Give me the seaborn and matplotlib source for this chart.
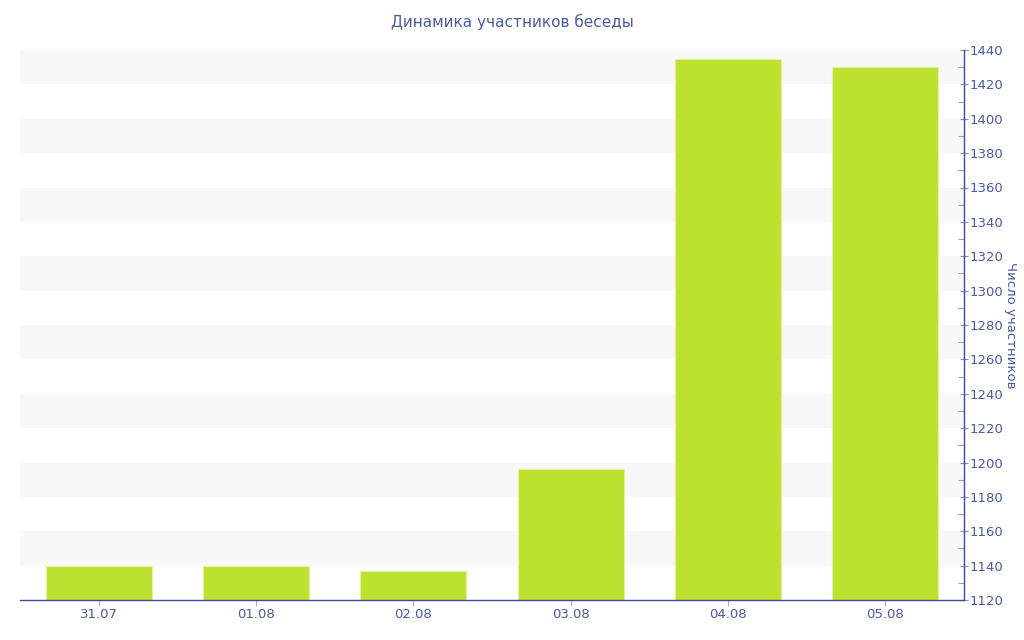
import matplotlib
matplotlib.use("Agg")
import matplotlib.pyplot as plt
import seaborn as sns
import pandas as pd
from matplotlib.ticker import MultipleLocator

dates = ["31.07", "01.08", "02.08", "03.08", "04.08", "05.08"]
members = [1140, 1140, 1137, 1196, 1435, 1430]

TITLE = "Динамика участников беседы"
YLABEL = "Число участников"
BAR_COLOR = "#bde12f"
AXIS_COLOR = "#3a4c9c"
TEXT_COLOR = "#4a5a9e"


def main():
    sns.set_theme(style="white")
    plt.rcParams['font.family'] = ['DejaVu Sans']

    df = pd.DataFrame({"date": dates, "members": members})

    fig = plt.figure(figsize=(10.24, 6.4), dpi=100)
    ax = fig.add_axes([20 / 1024, 40 / 640, 944 / 1024, 550 / 640])

    # alternating background bands
    for lo in range(1140, 1440, 40):
        ax.axhspan(lo, lo + 20, color="#f8f8f8", zorder=0, lw=0)

    sns.barplot(data=df, x="date", y="members", color=BAR_COLOR,
                width=0.675, saturation=1, ax=ax, zorder=2,
                edgecolor="#e4f3a0", linewidth=0.8)

    ax.set_xlim(-0.5, 5.5)
    ax.set_ylim(1120, 1440)
    ax.yaxis.tick_right()
    ax.yaxis.set_label_position("right")
    ax.yaxis.set_major_locator(MultipleLocator(20))
    ax.yaxis.set_minor_locator(MultipleLocator(10))

    for s in ["top", "left"]:
        ax.spines[s].set_visible(False)
    ax.spines["right"].set_color(AXIS_COLOR)
    ax.spines["bottom"].set_color(AXIS_COLOR)
    ax.spines["right"].set_linewidth(1)
    ax.spines["bottom"].set_linewidth(1)

    ax.tick_params(axis="y", which="major", direction="inout", length=6,
                   width=0.8, color="#8890b0", labelcolor=TEXT_COLOR,
                   labelsize=9.5, pad=1, right=True, left=False)
    ax.tick_params(axis="y", which="minor", direction="in", length=4,
                   width=0.8, color="#a0a0a0", right=True, left=False)
    ax.tick_params(axis="x", direction="out", length=4, width=0.8,
                   color="#b0b0b0", labelcolor=TEXT_COLOR, labelsize=9.5,
                   pad=2, bottom=True)

    ax.set_xlabel("")
    ax.set_ylabel(YLABEL, color=TEXT_COLOR, fontsize=9.5, rotation=270,
                  labelpad=10)
    fig.text(0.5, 1 - 22 / 640, TITLE, color=TEXT_COLOR, fontsize=11,
             ha="center", va="center")
    ax.grid(False)

    fig.savefig("out.png", dpi=100)


if __name__ == "__main__":
    main()
